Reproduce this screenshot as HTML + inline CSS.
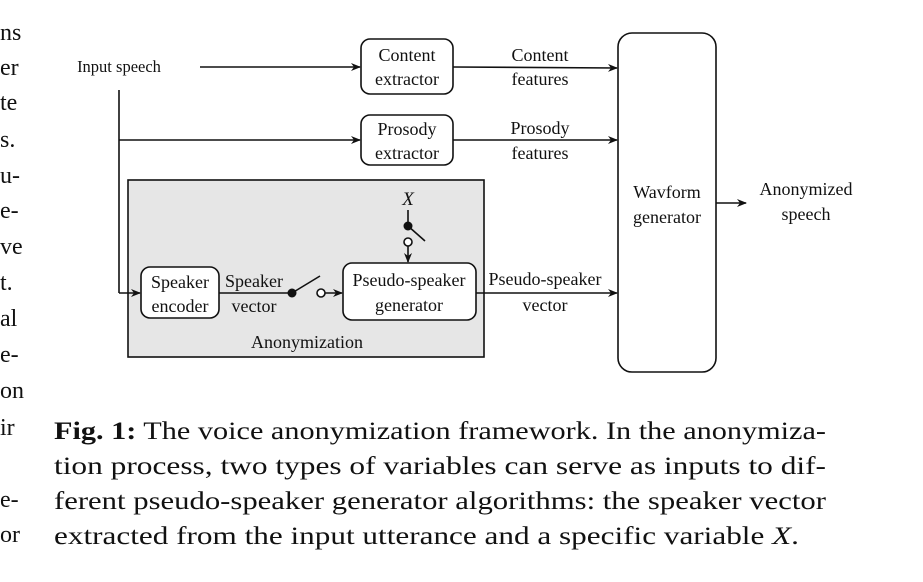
<!DOCTYPE html>
<html><head><meta charset="utf-8"><style>
html,body{margin:0;padding:0;background:#fff;}
body{width:923px;height:582px;overflow:hidden;position:relative;font-family:"Liberation Serif","Times New Roman",serif;}
.l{position:absolute;left:0;font-size:24px;color:#111;}
</style></head><body>
<div class="l" style="top:20px">ns</div>
<div class="l" style="top:55px">er</div>
<div class="l" style="top:90px">te</div>
<div class="l" style="top:127px">s.</div>
<div class="l" style="top:163px">u-</div>
<div class="l" style="top:198px">e-</div>
<div class="l" style="top:234px">ve</div>
<div class="l" style="top:270px">t.</div>
<div class="l" style="top:306px">al</div>
<div class="l" style="top:342px">e-</div>
<div class="l" style="top:378px">on</div>
<div class="l" style="top:415px">ir</div>
<div class="l" style="top:487px">e-</div>
<div class="l" style="top:522px">or</div>
<svg width="923" height="582" style="position:absolute;left:0;top:0" font-family="'Liberation Serif','Times New Roman',serif" font-size="18" fill="#111">
<defs><marker id="a" markerWidth="10" markerHeight="8" refX="9" refY="4" orient="auto" markerUnits="userSpaceOnUse"><path d="M0,0 L10,4 L0,8 L3,4 Z" fill="#111"/></marker></defs>
<g font-size="25">
<text x="54" y="439" textLength="772" lengthAdjust="spacingAndGlyphs"><tspan font-weight="bold">Fig. 1:</tspan> The voice anonymization framework. In the anonymiza-</text>
<text x="54" y="474" textLength="772" lengthAdjust="spacingAndGlyphs">tion process, two types of variables can serve as inputs to dif-</text>
<text x="54" y="509" textLength="772" lengthAdjust="spacingAndGlyphs">ferent pseudo-speaker generator algorithms: the speaker vector</text>
<text x="54" y="544" textLength="745" lengthAdjust="spacingAndGlyphs">extracted from the input utterance and a specific variable <tspan font-style="italic">X</tspan>.</text>
</g>
<g stroke="#111" stroke-width="1.6" fill="none">
<rect x="128" y="180" width="356" height="177" fill="#e6e6e6"/>
<line x1="200" y1="67" x2="360" y2="67" marker-end="url(#a)"/>
<rect x="361" y="39" width="92" height="55" rx="9" fill="#fff"/>
<line x1="453" y1="67" x2="617" y2="68" marker-end="url(#a)"/>
<line x1="119" y1="90" x2="119" y2="293"/>
<line x1="119" y1="140" x2="360" y2="140" marker-end="url(#a)"/>
<rect x="361" y="115" width="92" height="50" rx="9" fill="#fff"/>
<line x1="453" y1="140" x2="617" y2="140" marker-end="url(#a)"/>
<line x1="119" y1="293" x2="140" y2="293" marker-end="url(#a)"/>
<rect x="141" y="267" width="78" height="51" rx="9" fill="#fff"/>
<line x1="219" y1="293" x2="292" y2="293"/>
<line x1="292" y1="293" x2="320" y2="276"/>
<circle cx="321" cy="293" r="4" fill="#fff"/>
<line x1="325" y1="293" x2="342" y2="293" marker-end="url(#a)"/>
<rect x="343" y="263" width="133" height="57" rx="9" fill="#fff"/>
<line x1="408" y1="210" x2="408" y2="224"/>
<line x1="408" y1="226" x2="425" y2="241"/>
<circle cx="408" cy="242" r="4" fill="#fff"/>
<line x1="408" y1="246" x2="408" y2="262" marker-end="url(#a)"/>
<line x1="476" y1="293" x2="617" y2="293" marker-end="url(#a)"/>
<rect x="618" y="33" width="98" height="339" rx="14" fill="#fff"/>
<line x1="716" y1="203" x2="746" y2="203" marker-end="url(#a)"/>
</g>
<circle cx="292" cy="293" r="4.5" fill="#111"/>
<circle cx="408" cy="226" r="4.5" fill="#111"/>
<g text-anchor="middle">
<text x="119" y="72" font-size="16.5">Input speech</text>
<text x="407" y="61">Content</text><text x="407" y="85">extractor</text>
<text x="540" y="61">Content</text><text x="540" y="85">features</text>
<text x="407" y="135">Prosody</text><text x="407" y="159">extractor</text>
<text x="540" y="134">Prosody</text><text x="540" y="159">features</text>
<text x="408" y="205" font-style="italic" font-size="19">X</text>
<text x="180" y="288">Speaker</text><text x="180" y="312">encoder</text>
<text x="254" y="287">Speaker</text><text x="254" y="312">vector</text>
<text x="409" y="286">Pseudo-speaker</text><text x="409" y="311">generator</text>
<text x="545" y="285">Pseudo-speaker</text><text x="545" y="311">vector</text>
<text x="307" y="348">Anonymization</text>
<text x="667" y="198">Wavform</text><text x="667" y="223">generator</text>
<text x="806" y="195">Anonymized</text><text x="806" y="220">speech</text>
</g>
</svg>
</body></html>
